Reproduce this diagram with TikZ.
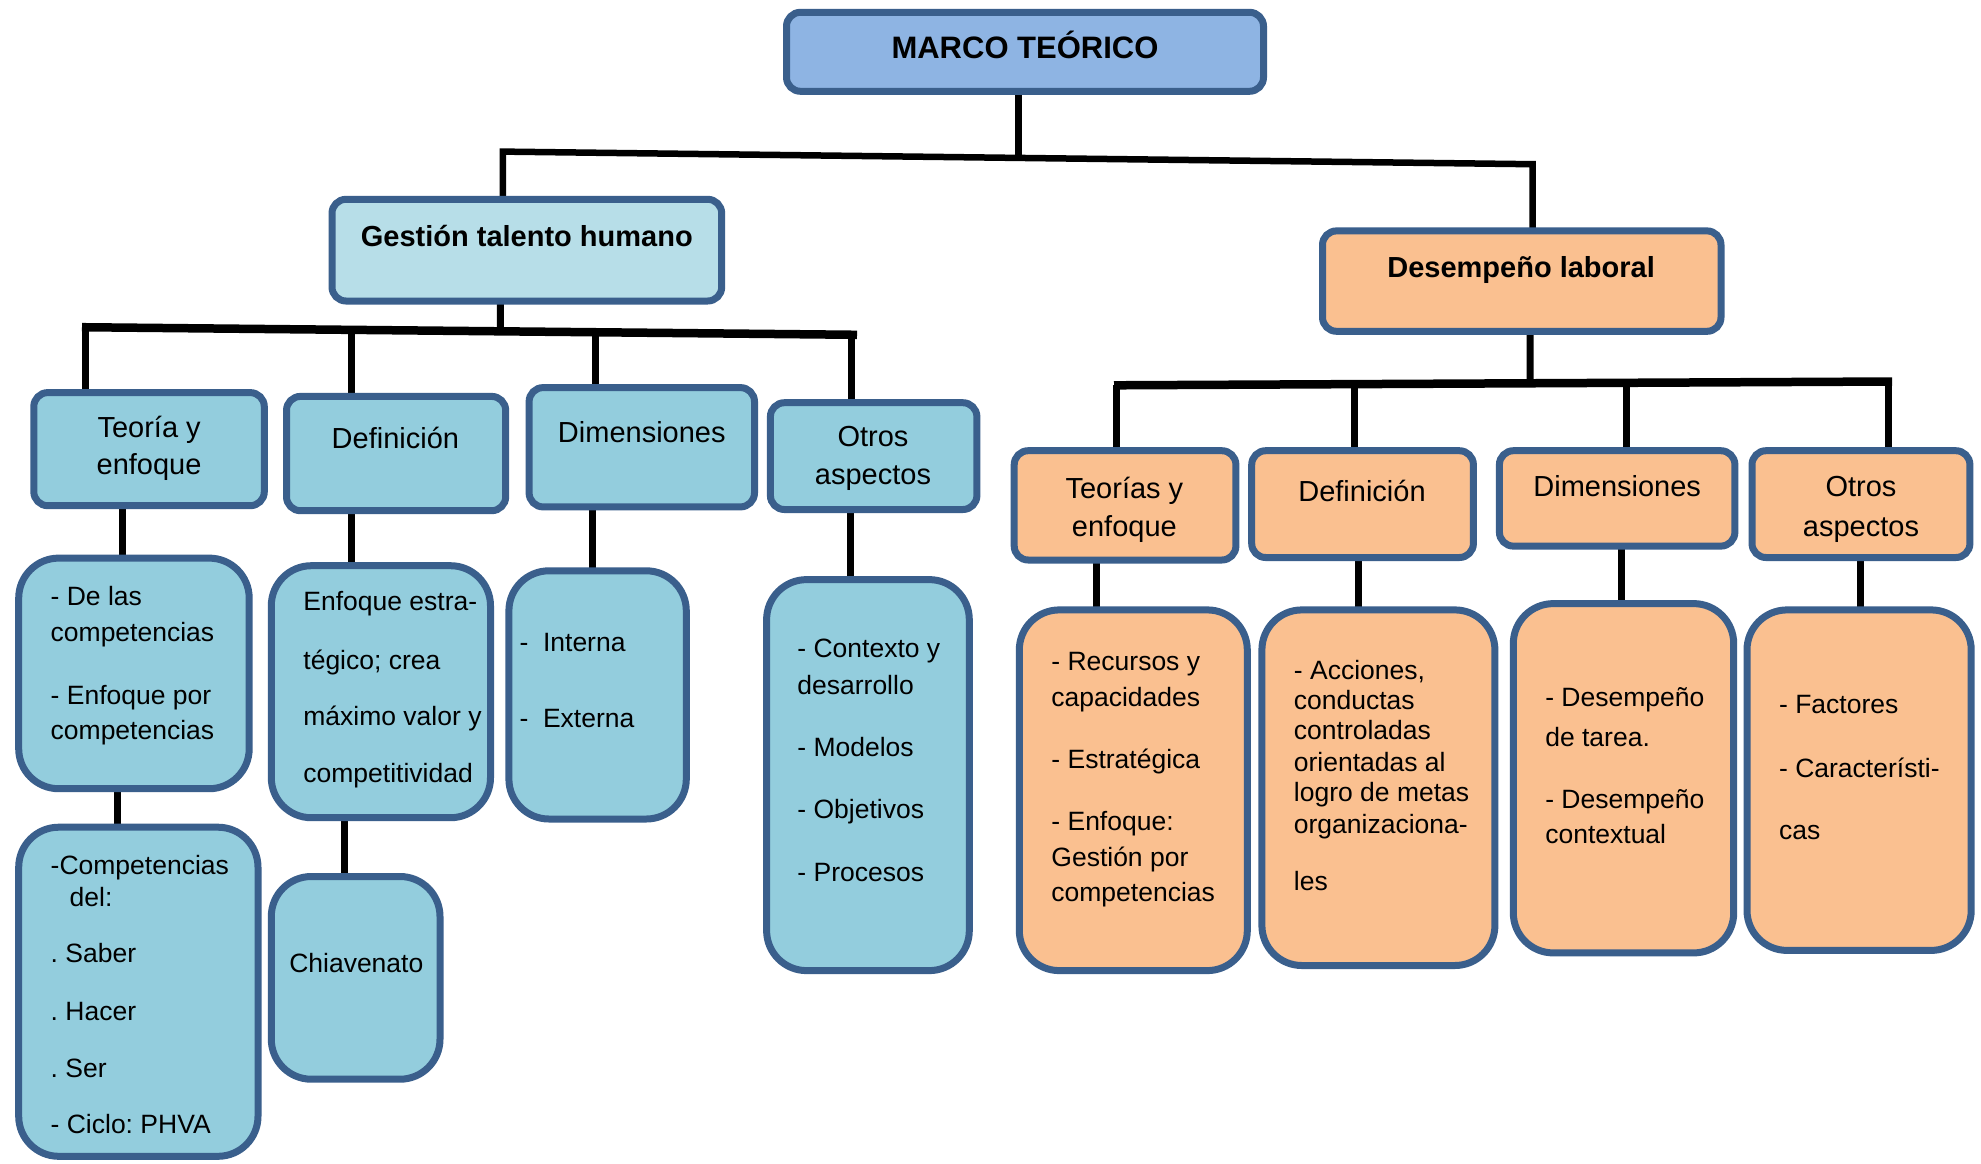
\documentclass[tikz,border=0pt]{standalone}
\usepackage{fontspec}
\setmainfont{Liberation Sans}
\frenchspacing
\usetikzlibrary{backgrounds}
\definecolor{bord}{HTML}{3A5F8C}
\definecolor{marcof}{HTML}{8EB4E3}
\definecolor{gthf}{HTML}{B7DEE8}
\definecolor{bluef}{HTML}{93CDDD}
\definecolor{peachf}{HTML}{FAC090}
\newcommand\mkbox[6]{\node[#6, minimum width={(#4-#2-7)*1pt}, minimum height={(#5-#3-7)*1pt}] (#1) at ({(#2+#4)/2},{(#3+#5)/2}) {};}
\tikzset{
  boxbase/.style={draw=bord, line width=7pt, inner sep=0pt, outer sep=0pt, rectangle},
  sq/.style={boxbase, rounded corners=14pt},
  rd/.style={boxbase, rounded corners=40pt},
  conn/.style={line width=7pt, black},
  barline/.style={line width=8.5pt, black},
  lbl/.style={inner sep=0pt, anchor=base, font=\fontsize{29}{34}\selectfont},
  ttl/.style={inner sep=0pt, anchor=base, font=\fontsize{29}{34}\selectfont\bfseries},
  mttl/.style={inner sep=0pt, anchor=base, font=\fontsize{31}{36}\selectfont\bfseries},
  sm/.style={inner sep=0pt, anchor=base west, font=\fontsize{26.5}{30}\selectfont},
  smc/.style={inner sep=0pt, anchor=base, font=\fontsize{26.5}{30}\selectfont}
}
\begin{document}
\begin{tikzpicture}[x=1pt,y=-1pt]
\useasboundingbox (0,0) rectangle (1981,1163);
% top level
\mkbox{marco}{783}{8.8}{1267}{94.8}{sq, fill=marcof}
\mkbox{gth}{328.5}{195.8}{725.2}{304.5}{sq, fill=gthf}
\mkbox{dl}{1319}{227.4}{1724.5}{334.8}{sq, fill=peachf}
% level 2 left
\mkbox{la}{30.3}{389.1}{267.8}{509.2}{sq, fill=bluef}
\mkbox{lb}{283}{392.9}{509.2}{514.2}{sq, fill=bluef}
\mkbox{lc}{525.6}{384.1}{758}{510.4}{sq, fill=bluef}
\mkbox{ld}{766.9}{399.2}{980.4}{513}{sq, fill=bluef}
% level 3 left
\mkbox{ma}{15.2}{554.6}{252.7}{792.2}{rd, fill=bluef}
\mkbox{mb}{267.8}{562.2}{494}{821.2}{rd, fill=bluef}
\mkbox{mc}{505.4}{567.3}{689.8}{822.5}{rd, fill=bluef}
\mkbox{md}{763.1}{576.1}{972.8}{974.1}{rd, fill=bluef}
% level 4 left
\mkbox{na}{15.2}{823.7}{261.5}{1159.8}{rd, fill=bluef}
\mkbox{nb}{267.8}{873}{443.5}{1082.7}{rd, fill=bluef}
% level 2 right
\mkbox{ra}{1010.7}{447.2}{1239.4}{563.5}{sq, fill=peachf}
\mkbox{rb}{1248.2}{447.2}{1476.9}{561}{sq, fill=peachf}
\mkbox{rc}{1495.9}{447.2}{1738.4}{549.6}{sq, fill=peachf}
\mkbox{rdd}{1748.5}{447.2}{1973.4}{561}{sq, fill=peachf}
% level 3 right
\mkbox{sa}{1015.8}{606.4}{1250.8}{974.1}{rd, fill=peachf}
\mkbox{sb}{1258.4}{606.4}{1498.4}{969}{rd, fill=peachf}
\mkbox{sc}{1509.8}{600.1}{1737.2}{956.4}{rd, fill=peachf}
\mkbox{sd}{1743.5}{606.4}{1974.7}{953.9}{rd, fill=peachf}

% connectors
\begin{scope}[on background layer]
\fill[white] (0,0) rectangle (1981,1163);
\coordinate (topL) at (502.8,151.6);
\coordinate (topR) at (1532.5,164.2);
\coordinate (topM) at (1018.3,157.9);
\draw[conn] ([xshift=-6.7pt]marco.south) -- (topM);
\draw[line width=6.5pt, line join=miter] ([xshift=-24pt]gth.north) -- (topL) -- (topR) -- ([xshift=10.8pt]dl.north);
% left group
\coordinate (lbL) at (82,327.2);
\coordinate (lbR) at (857,334.8);
\coordinate (lg) at (500.3,331.3);
\draw[conn] ([xshift=-26.5pt]gth.south) -- (lg);
\draw[barline] (lbL) -- (lbR);
\coordinate (v1) at (85.9,327.2);
\coordinate (v2) at (351.2,329.8);
\coordinate (v3) at (595,332.2);
\coordinate (v4) at (851.5,334.8);
\draw[conn] (v1) -- (v1 |- la.north);
\draw[conn] (v2) -- (v2 |- lb.north);
\draw[conn] (v3) -- (v3 |- lc.north);
\draw[conn] (v4) -- (v4 |- ld.north);
\draw[conn] ([xshift=-26.5pt]la.south) -- ([xshift=-26.5pt]la.south |- ma.north);
\draw[conn] ([xshift=-44.9pt]lb.south) -- ([xshift=-44.9pt]lb.south |- mb.north);
\draw[conn] ([xshift=-49.3pt]lc.south) -- ([xshift=-49.3pt]lc.south |- mc.north);
\draw[conn] ([xshift=-23.4pt]ld.south) -- ([xshift=-23.4pt]ld.south |- md.north);
\draw[conn] ([xshift=-16.5pt]ma.south) -- ([xshift=-16.5pt]ma.south |- na.north);
\draw[conn] ([xshift=-36pt]mb.south) -- ([xshift=-36pt]mb.south |- nb.north);
% right group
\coordinate (rbL) at (1114,385.3);
\coordinate (rbR) at (1892,381.5);
\coordinate (rg) at (1530,383.3);
\draw[conn] ([xshift=8.3pt]dl.south) -- (rg);
\draw[barline] (rbL) -- (rbR);
\coordinate (w1) at (1116.8,385.3);
\coordinate (w2) at (1354.4,384.1);
\coordinate (w3) at (1626,382.8);
\coordinate (w4) at (1888.8,381.5);
\draw[conn] (w1) -- (w1 |- ra.north);
\draw[conn] (w2) -- (w2 |- rb.north);
\draw[conn] (w3) -- (w3 |- rc.north);
\draw[conn] (w4) -- (w4 |- rdd.north);
\draw[conn] ([xshift=-28.5pt]ra.south) -- ([xshift=-28.5pt]ra.south |- sa.north);
\draw[conn] ([xshift=-4.4pt]rb.south) -- ([xshift=-4.4pt]rb.south |- sb.north);
\draw[conn] ([xshift=3.9pt]rc.south) -- ([xshift=3.9pt]rc.south |- sc.north);
\draw[conn] (rdd.south) -- (rdd.south |- sd.north);
\end{scope}

% texts
\node[mttl] (tmarco) at (1025,58) {MARCO TEÓRICO};
\node[ttl] (tgth) at (526.8,246.7) {Gestión talento humano};
\node[ttl] (tdl) at (1521.1,277) {Desempeño laboral};

\node[lbl] (tla1) at (149.1,437.4) {Teoría y};
\node[lbl] (tla2) at (149.1,474.1) {enfoque};
\node[lbl] (tlb) at (395.4,448.8) {Definición};
\node[lbl] (tlc) at (641.8,442.5) {Dimensiones};
\node[lbl] (tld1) at (873,446.3) {Otros};
\node[lbl] (tld2) at (873,484.2) {aspectos};

\node[sm] (tma1) at (50.5,605.8) {- De las};
\node[sm] (tma2) at (50.5,641.2) {competencias};
\node[sm] (tma3) at (50.5,704.4) {- Enfoque por};
\node[sm] (tma4) at (50.5,739.7) {competencias};

\node[sm] (tmb1) at (303.2,610.9) {Enfoque estra-};
\node[sm] (tmb2) at (303.2,669) {tégico; crea};
\node[sm] (tmb3) at (303.2,725.8) {máximo valor y};
\node[sm] (tmb4) at (303.2,782.7) {competitividad};

\node[sm] (tmc1) at (519.3,651.3) {-\ \ Interna};
\node[sm] (tmc2) at (519.3,727.1) {-\ \ Externa};

\node[sm] (tmd1) at (797.2,657.6) {- Contexto y};
\node[sm] (tmd2) at (797.2,694.3) {desarrollo};
\node[sm] (tmd3) at (797.2,756.2) {- Modelos};
\node[sm] (tmd4) at (797.2,818.1) {- Objetivos};
\node[sm] (tmd5) at (797.2,881.2) {- Procesos};

\node[sm] (tna1) at (50.5,874.9) {-Competencias};
\node[sm] (tna2) at (69.5,906.5) {del:};
\node[sm] (tna3) at (50.5,962.1) {. Saber};
\node[sm] (tna4) at (50.5,1020.2) {. Hacer};
\node[sm] (tna5) at (50.5,1077.1) {. Ser};
\node[sm] (tna6) at (50.5,1133.9) {- Ciclo: PHVA};

\node[smc] (tnb) at (356.3,972.2) {Chiavenato};

\node[lbl] (tra1) at (1124.4,498.1) {Teorías y};
\node[lbl] (tra2) at (1124.4,536) {enfoque};
\node[lbl] (trb) at (1362,501.9) {Definición};
\node[lbl] (trc) at (1617.2,496.8) {Dimensiones};
\node[lbl] (trd1) at (1861,496.8) {Otros};
\node[lbl] (trd2) at (1861,536) {aspectos};

\node[sm] (tsa1) at (1051.2,670.3) {- Recursos y};
\node[sm] (tsa2) at (1051.2,706.9) {capacidades};
\node[sm] (tsa3) at (1051.2,768.8) {- Estratégica};
\node[sm] (tsa4) at (1051.2,830.7) {- Enfoque:};
\node[sm] (tsa5) at (1051.2,866.1) {Gestión por};
\node[sm] (tsa6) at (1051.2,901.5) {competencias};

\node[sm] (tsb1) at (1293.7,679.1) {- Acciones,};
\node[sm] (tsb2) at (1293.7,709.4) {conductas};
\node[sm] (tsb3) at (1293.7,739.7) {controladas};
\node[sm] (tsb4) at (1293.7,771.3) {orientadas al};
\node[sm] (tsb5) at (1293.7,801.7) {logro de metas};
\node[sm] (tsb6) at (1293.7,833.2) {organizaciona-};
\node[sm] (tsb7) at (1293.7,890.1) {les};

\node[sm] (tsc1) at (1545.1,706.9) {- Desempeño};
\node[sm] (tsc2) at (1545.1,746.1) {de tarea.};
\node[sm] (tsc3) at (1545.1,808) {- Desempeño};
\node[sm] (tsc4) at (1545.1,843.3) {contextual};

\node[sm] (tsd1) at (1778.9,713.2) {- Factores};
\node[sm] (tsd2) at (1778.9,777.6) {- Característi-};
\node[sm] (tsd3) at (1778.9,839.6) {cas};
\end{tikzpicture}
\end{document}
